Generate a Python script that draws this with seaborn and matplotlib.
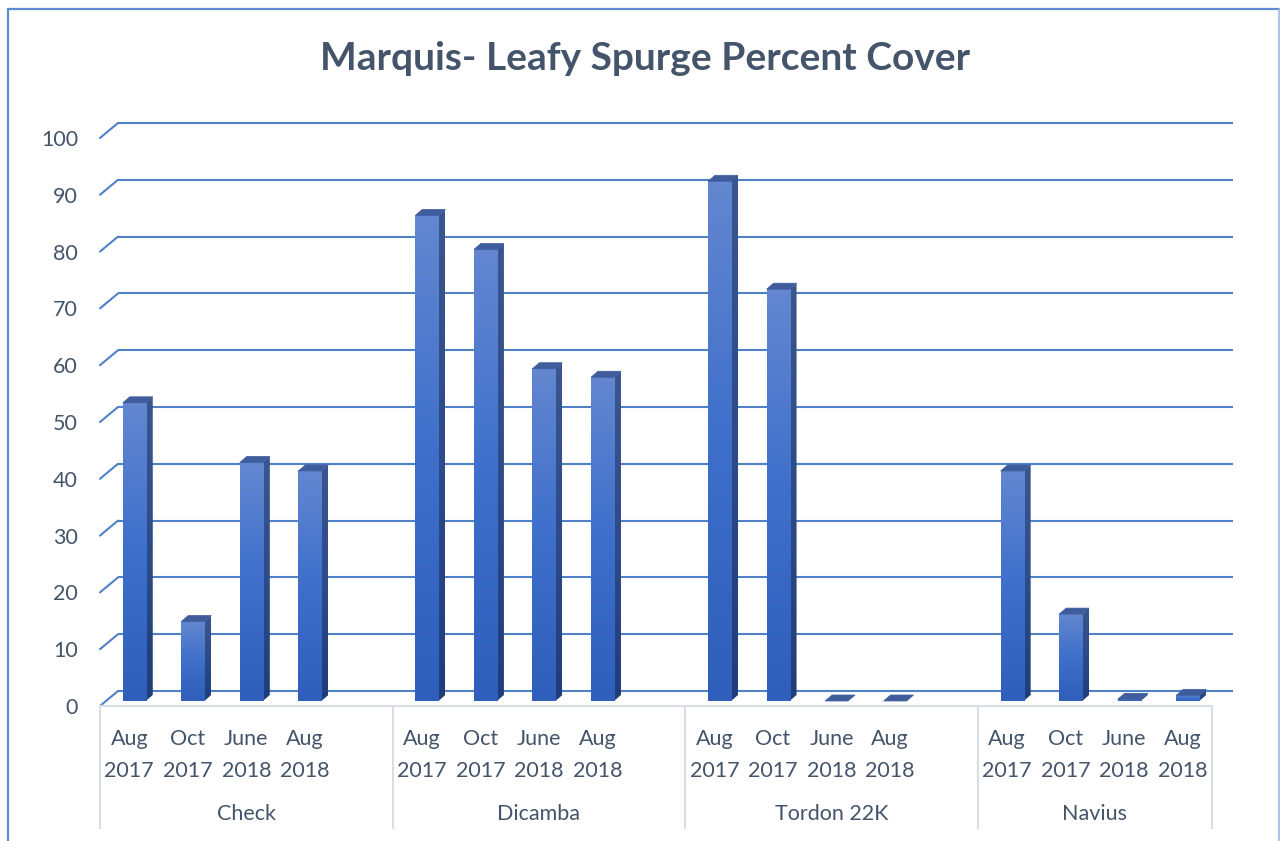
import numpy as np
import pandas as pd
import matplotlib
matplotlib.use("Agg")
import matplotlib.pyplot as plt
import matplotlib.transforms as mtrans
from matplotlib.patches import Polygon
from matplotlib.lines import Line2D
from matplotlib.colors import LinearSegmentedColormap
import seaborn as sns

# ---------------- data ----------------
treatments = ["Check", "Dicamba", "Tordon 22K", "Navius"]
dates = ["Aug\n2017", "Oct\n2017", "June\n2018", "Aug\n2018"]
check_vals = [52.5, 14, 42, 40.5]
dicamba_vals = [85.5, 79.5, 58.5, 57]
tordon_vals = [91.5, 72.5, 0, 0]
navius_vals = [40.5, 15.3, 0.3, 1]
yticks = [0, 10, 20, 30, 40, 50, 60, 70, 80, 90, 100]
title = "Marquis- Leafy Spurge Percent Cover"

series = [check_vals, dicamba_vals, tordon_vals, navius_vals]
rows = []
order = []
for gi, (t, vals) in enumerate(zip(treatments, series)):
    for d, v in zip(dates, vals):
        key = f"{t}|{d}"
        rows.append({"key": key, "treatment": t, "date": d, "value": v})
        order.append(key)
    if gi < len(treatments) - 1:
        order.append(f"gap{gi}")
df = pd.DataFrame(rows)

# ---------------- figure ----------------
W, H = 1281, 841
DPI = 100
sns.set_theme(style="white")
plt.rcParams["font.family"] = ["Lato", "DejaVu Sans"]
fig = plt.figure(figsize=(W / DPI, H / DPI), dpi=DPI)
fig.patch.set_facecolor("white")

TXT = "#44546A"
GRID = "#4F81C7"
FS = 15.5


def fx(x):
    return x / W


def fy(y):
    return 1 - y / H


# chart-area border
fig.add_artist(Line2D([fx(8), fx(8)], [fy(9), fy(845)], color="#5B8BD0", lw=1.6))
fig.add_artist(Line2D([fx(8), fx(1279)], [fy(9), fy(9)], color="#5B8BD0", lw=1.6))
fig.add_artist(Line2D([fx(1279), fx(1279)], [fy(9), fy(845)], color="#9DB8E3", lw=1.2))

# front plane axes: x from px 100..1212, y 0 at px 706, 100 at px 138
ax = fig.add_axes([fx(100), fy(706), (1212 - 100) / W, (706 - 138) / H])
ax.set_facecolor("none")
sns.barplot(data=df, x="key", y="value", order=order, ax=ax, width=0.393,
            color="#4472C4", saturation=1, errorbar=None, zorder=3)
ax.set_xlim(-0.5, len(order) - 0.5)
ax.set_ylim(0, 100)
ax.set_axis_off()

# depth offsets (pixels)
DEPTH_X, DEPTH_Y = 18, 15      # back wall
BAR_X, BAR_Y = 5, 5            # bar front face position inside depth
SIDE_X, SIDE_Y = 7, 6          # bar thickness

back = ax.transData + mtrans.ScaledTranslation(DEPTH_X / DPI, DEPTH_Y / DPI, fig.dpi_scale_trans)
bar_tr = ax.transData + mtrans.ScaledTranslation(BAR_X / DPI, BAR_Y / DPI, fig.dpi_scale_trans)
ylab_tr = mtrans.blended_transform_factory(ax.transAxes, ax.transData) + \
    mtrans.ScaledTranslation(-22 / DPI, -2 / DPI, fig.dpi_scale_trans)

# gridlines on back wall + diagonal floor stubs on the left
x_lo, x_hi = ax.get_xlim()
for v in yticks:
    ax.plot([x_lo, x_hi + 0.05], [v, v], color=GRID, lw=1.5, transform=back,
            clip_on=False, zorder=1, solid_capstyle="butt")
    p0 = ax.transData.transform((x_lo, v))
    p1 = back.transform((x_lo, v))
    ax.add_line(Line2D([p0[0], p1[0]], [p0[1], p1[1]], color=GRID, lw=1.5,
                       transform=mtrans.IdentityTransform(), clip_on=False, zorder=1))
    ax.text(0, v, str(v), transform=ylab_tr, ha="right", va="center",
            fontsize=FS, color=TXT, clip_on=False)

# bar gradients
front_grad = np.linspace(0, 1, 256).reshape(-1, 1)
cm_front = LinearSegmentedColormap.from_list("f", ["#2F5EBB", "#3E6FCB", "#6387D0"])
cm_side = LinearSegmentedColormap.from_list("s", ["#1E3D7A", "#2C4B88", "#3A5690"])

ident = mtrans.IdentityTransform()
for p in list(ax.patches):
    x0, y0 = p.get_x(), p.get_y()
    w, h = p.get_width(), p.get_height()
    if np.isnan(h):
        continue
    p.set_transform(bar_tr)
    p.set_facecolor("#4472C4")
    p.set_edgecolor("none")
    p.set_zorder(3)
    (X0, Y0) = bar_tr.transform((x0, y0))
    (X1, Y1) = bar_tr.transform((x0 + w, y0 + h))
    if h > 0:
        im = ax.imshow(front_grad, cmap=cm_front, aspect="auto", origin="lower",
                       extent=(x0, x0 + w, y0, y0 + h), zorder=3.1, interpolation="bilinear")
        im.set_transform(bar_tr)
        im.set_clip_on(False)
        sim = ax.imshow(front_grad, cmap=cm_side, aspect="auto", origin="lower",
                        extent=(X1, X1 + SIDE_X, Y0, Y1 + SIDE_Y), zorder=3.0,
                        interpolation="bilinear")
        sim.set_transform(ident)
        clip = Polygon([(X1, Y0), (X1 + SIDE_X, Y0 + SIDE_Y), (X1 + SIDE_X, Y1 + SIDE_Y), (X1, Y1)],
                       closed=True, transform=ident, facecolor="none", edgecolor="none")
        ax.add_patch(clip)
        sim.set_clip_path(clip)
    top = Polygon([(X0, Y1), (X1, Y1), (X1 + SIDE_X, Y1 + SIDE_Y), (X0 + SIDE_X, Y1 + SIDE_Y)],
                  closed=True, transform=ident, facecolor="#3F5D9C", edgecolor="#3F5D9C",
                  lw=0.5, zorder=3.2, clip_on=False)
    ax.add_patch(top)

ax.set_xlim(x_lo, x_hi)
ax.set_ylim(0, 100)

# category axis (multi-level)
AXC = "#D9DEE6"
bt = mtrans.blended_transform_factory(ax.transData, fig.transFigure)
fig.add_artist(Line2D([fx(100), fx(1212)], [fy(706), fy(706)], color=AXC, lw=1.5))
group_edges = [-0.5, 4.5, 9.5, 14.5, len(order) - 0.5]
for e in group_edges:
    ax.add_line(Line2D([e, e], [fy(706), fy(828)], color=AXC, lw=1.5, transform=bt, clip_on=False))

for gi, t in enumerate(treatments):
    start = gi * 5
    for di, d in enumerate(dates):
        ax.text(start + di, fy(755), d, transform=bt, ha="center", va="center",
                fontsize=FS, color=TXT, linespacing=1.7, clip_on=False)
    center = (group_edges[gi] + group_edges[gi + 1]) / 2
    ax.text(center, fy(814), t, transform=bt, ha="center", va="center",
            fontsize=FS, color=TXT, clip_on=False)

fig.text(fx(645), fy(58), title, ha="center", va="center", fontsize=28,
         fontweight="bold", color=TXT)

fig.savefig("out.png", dpi=DPI, facecolor="white")
